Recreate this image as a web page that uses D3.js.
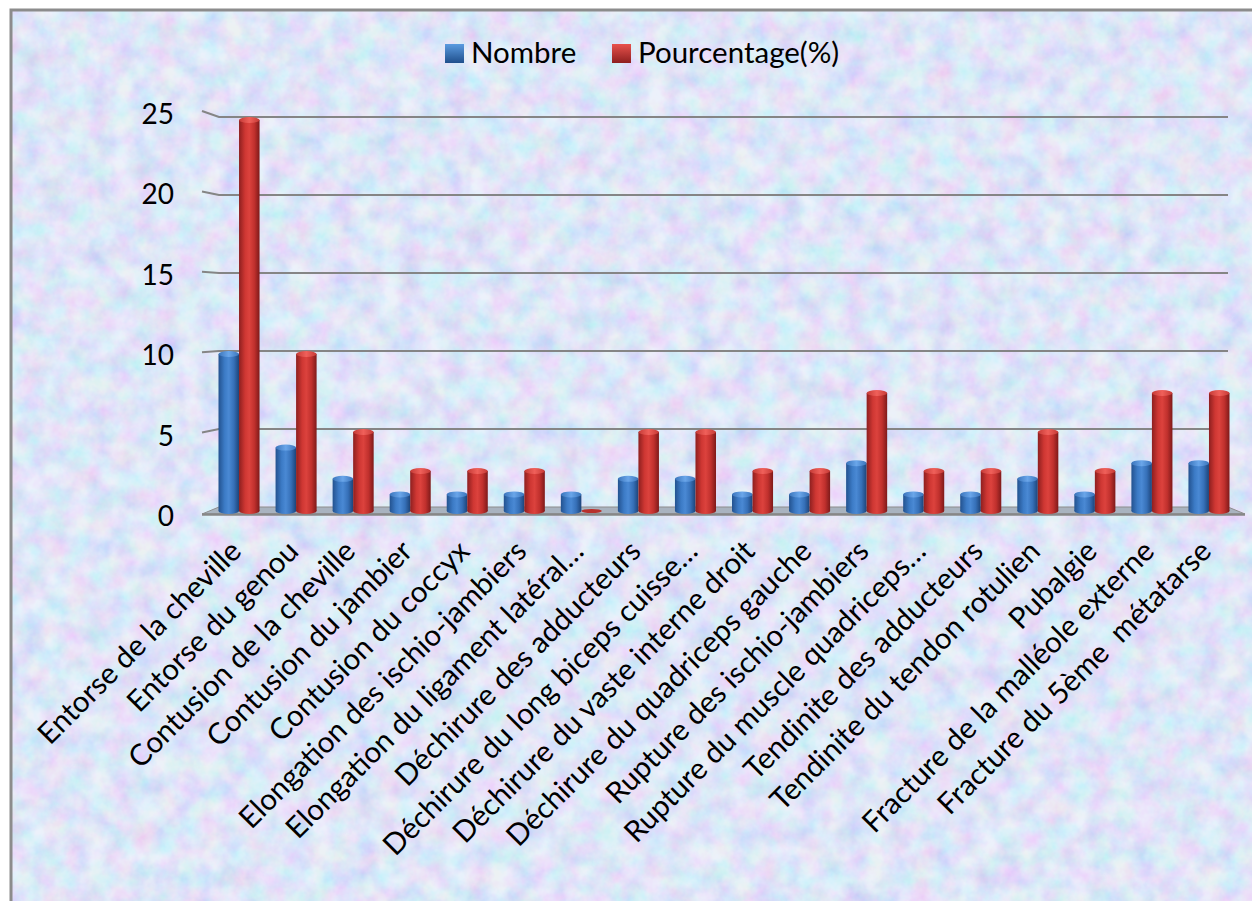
<!DOCTYPE html>
<html><head><meta charset="utf-8">
<script src="https://cdn.jsdelivr.net/npm/d3@7"></script>
<style>
body{margin:0;background:#fff}
svg{display:block}
text{font-family:Lato,"Open Sans",sans-serif;fill:#000}
</style>
</head><body>
<svg id="c" width="1252" height="901"></svg>
<script>
const categories = [
  "Entorse de la cheville",
  "Entorse du genou",
  "Contusion de la cheville",
  "Contusion du jambier",
  "Contusion du coccyx",
  "Elongation des ischio-jambiers",
  "Elongation du ligament latéral…",
  "Déchirure des adducteurs",
  "Déchirure du long biceps cuisse…",
  "Déchirure du vaste interne droit",
  "Déchirure du quadriceps gauche",
  "Rupture des ischio-jambiers",
  "Rupture du muscle quadriceps…",
  "Tendinite des adducteurs",
  "Tendinite du tendon rotulien",
  "Pubalgie",
  "Fracture de la malléole externe",
  "Fracture du 5ème  métatarse"
];
const nombre      = [10, 4, 2, 1, 1, 1, 1, 2, 2, 1, 1, 3, 1, 1, 2, 1, 3, 3];
const pourcentage = [25, 10, 5, 2.5, 2.5, 2.5, 0, 5, 5, 2.5, 2.5, 7.5, 2.5, 2.5, 5, 2.5, 7.5, 7.5];
const seriesNames = ["Nombre", "Pourcentage(%)"];
const yTicks = [0, 5, 10, 15, 20, 25];

const svg = d3.select("#c");
const defs = svg.append("defs");

// background texture
const f = defs.append("filter").attr("id","tex").attr("x",0).attr("y",0).attr("width","100%").attr("height","100%");
f.append("feTurbulence").attr("type","fractalNoise").attr("baseFrequency","0.045").attr("numOctaves",4).attr("seed",7);
f.append("feColorMatrix").attr("type","matrix")
 .attr("values","0.9 0 0 0 0.36  0 0.75 0 0 0.47  0 0 0.3 0 0.8  0 0 0 0 0.6");

function grad(id, stops){
  const g = defs.append("linearGradient").attr("id",id).attr("x1","0").attr("x2","1").attr("y1","0").attr("y2","0");
  stops.forEach(s=>g.append("stop").attr("offset",s[0]).attr("stop-color",s[1]));
}
grad("gBlue",[[0,"#23528f"],[0.3,"#3c7bc6"],[0.5,"#4a89d4"],[0.75,"#3670b8"],[1,"#1d4479"]]);
grad("gRed",[[0,"#8e1f1f"],[0.3,"#cf3733"],[0.5,"#dc423d"],[0.75,"#c0302d"],[1,"#7e1a1a"]]);
grad("cBlue",[[0,"#3a74bb"],[0.5,"#6aa6ea"],[1,"#3a74bb"]]);
grad("cRed",[[0,"#c53a36"],[0.5,"#f0605a"],[1,"#c53a36"]]);
const lg1 = defs.append("linearGradient").attr("id","lBlue").attr("x1",0).attr("x2",0).attr("y1",0).attr("y2",1);
lg1.append("stop").attr("offset",0).attr("stop-color","#5b9be0");
lg1.append("stop").attr("offset",1).attr("stop-color","#1f4f8c");
const lg2 = defs.append("linearGradient").attr("id","lRed").attr("x1",0).attr("x2",0).attr("y1",0).attr("y2",1);
lg2.append("stop").attr("offset",0).attr("stop-color","#e8524c");
lg2.append("stop").attr("offset",1).attr("stop-color","#8e1f1f");

svg.append("rect").attr("x",11).attr("y",10).attr("width",1260).attr("height",920).attr("fill","#d0dbf5");
svg.append("rect").attr("x",11).attr("y",10).attr("width",1260).attr("height",920).attr("filter","url(#tex)");
svg.append("rect").attr("x",11).attr("y",10).attr("width",1260).attr("height",920)
   .attr("fill","none").attr("stroke","#8c8c8c").attr("stroke-width",3);

// scales
const y = d3.scaleLinear().domain([0,25]).range([507,117]);
const yFront = d3.scaleLinear().domain([0,25]).range([513,111]);
const x0 = d3.scaleBand().domain(categories).range([210.5,1237.5]);
const x1 = d3.scaleBand().domain(seriesNames).range([0,x0.bandwidth()]).paddingOuter(0.39).paddingInner(0);
const wallLeft = 219, frontLeft = 202, wallRight = 1228;

// gridlines
svg.append("g").selectAll("path").data(yTicks.filter(d=>d>0)).join("path")
  .attr("d",d=>`M${frontLeft},${yFront(d)}L${wallLeft},${y(d)}L${wallRight},${y(d)}`)
  .attr("fill","none").attr("stroke","#858585").attr("stroke-width",2);

// y tick labels
svg.append("g").selectAll("text").data(yTicks).join("text")
  .attr("x",174).attr("y",d=>yFront(d)+2).attr("text-anchor","end")
  .attr("dominant-baseline","central").style("font-size","28px").text(d=>d);

// floor
const floorBackR = wallRight, floorFrontR = 1245;
svg.append("path")
  .attr("d",`M${wallLeft},${y(0)}L${floorBackR},${y(0)}L${floorFrontR},${y(0)+7}L${frontLeft},${y(0)+7}Z`)
  .attr("fill","#a9b3bf").attr("stroke","#8d8d8d").attr("stroke-width",1);
svg.append("line").attr("x1",frontLeft).attr("x2",floorFrontR).attr("y1",y(0)+7.5).attr("y2",y(0)+7.5)
  .attr("stroke","#878787").attr("stroke-width",2.5);

// bars (cylinders)
const base = y(0)+4, ry = 3;
const rows = categories.map((c,i)=>({c, vals:[nombre[i], pourcentage[i]]}));
const gBars = svg.append("g");
rows.forEach(r=>{
  r.vals.forEach((v,k)=>{
    const s = seriesNames[k];
    const bx = x0(r.c)+x1(s), w = x1.bandwidth();
    const body = k===0?"url(#gBlue)":"url(#gRed)";
    const cap = k===0?"url(#cBlue)":"url(#cRed)";
    if (v<=0){
      gBars.append("ellipse").attr("cx",bx+w/2).attr("cy",base).attr("rx",w/2).attr("ry",2)
        .attr("fill",k===0?"#2d63a8":"#b8302c");
      return;
    }
    const top = y(v)+3;
    gBars.append("ellipse").attr("cx",bx+w/2).attr("cy",base).attr("rx",w/2).attr("ry",ry).attr("fill",body);
    gBars.append("rect").attr("x",bx).attr("y",top).attr("width",w).attr("height",base-top).attr("fill",body);
    gBars.append("ellipse").attr("cx",bx+w/2).attr("cy",top).attr("rx",w/2).attr("ry",ry).attr("fill",cap);
  });
});

// category labels
svg.append("g").selectAll("text").data(categories).join("text")
  .attr("transform",d=>`translate(${x0(d)+x0.bandwidth()/2+4},${553}) rotate(-45)`)
  .attr("text-anchor","end").style("font-size","29.5px").style("white-space","pre")
  .text(d=>d);

// legend
const leg = [{n:seriesNames[0], x:445, tx:471, fill:"url(#lBlue)"},{n:seriesNames[1], x:612, tx:638, fill:"url(#lRed)"}];
const lg = svg.append("g");
leg.forEach(l=>{
  lg.append("rect").attr("x",l.x).attr("y",44).attr("width",19).attr("height",19).attr("fill",l.fill);
  lg.append("text").attr("x",l.tx).attr("y",63).style("font-size","29.5px").text(l.n);
});
</script>
</body></html>
